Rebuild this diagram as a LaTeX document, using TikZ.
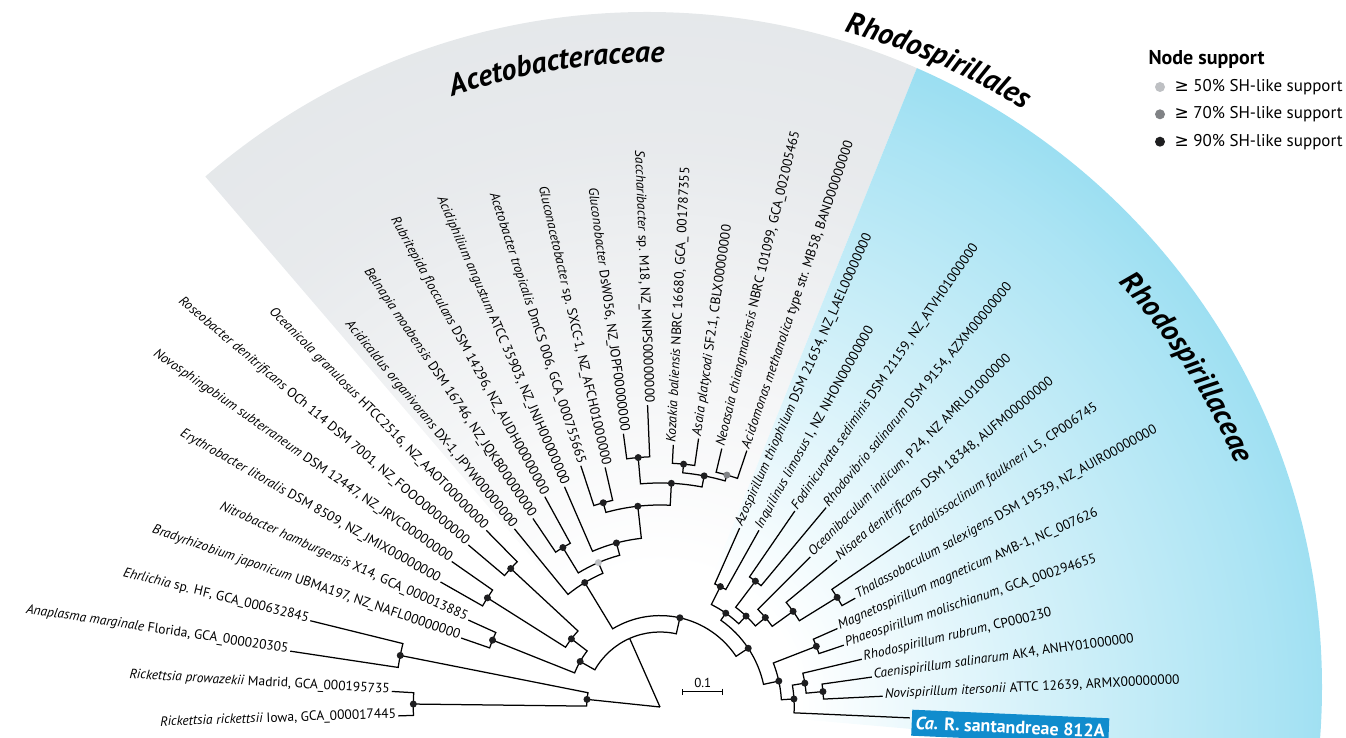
\documentclass[tikz,border=0pt]{standalone}
\usepackage{fontspec}
\setmainfont{PT Sans}
\newfontfamily\symfont{DejaVu Sans}
\usetikzlibrary{calc}
\usetikzlibrary{arrows.meta}
\usetikzlibrary{decorations.text}
\definecolor{fanblue}{RGB}{92,202,233}
\definecolor{fangrey}{RGB}{226,229,232}
\definecolor{boxblue}{RGB}{16,140,205}
\definecolor{sup50}{RGB}{190,192,195}
\definecolor{sup70}{RGB}{128,130,133}
\definecolor{sup90}{RGB}{30,30,32}
\pgfdeclareradialshading{bluefan}{\pgfpoint{0bp}{0bp}}{color(0bp)=(white); color(5bp)=(white); color(22bp)=(fanblue!52); color(35bp)=(fanblue); color(50bp)=(fanblue)}
\pgfdeclareradialshading{greyfan}{\pgfpoint{0bp}{0bp}}{color(0bp)=(white); color(5bp)=(white); color(20bp)=(fangrey!80); color(30bp)=(fangrey); color(50bp)=(fangrey)}
\pgfdeclarelayer{back}
\pgfdeclarelayer{lines}
\pgfsetlayers{back,lines,main}
\newcommand{\cladefont}{\bfseries\itshape\fontsize{30}{30}\selectfont}
% one branch of the fan: arc at the parent radius, then out to the child
\newcommand{\branch}[2]{%
  \draw[tree line] let \p1=(#1.center), \p2=(#2.center),
    \n1={mod(atan2(\y1,\x1)+450,360)-90},
    \n2={mod(atan2(\y2,\x2)+450,360)-90},
    \n3={veclen(\x1,\y1)} in
    (#1.center) arc[start angle=\n1, end angle=\n2, radius=\n3] -- (#2.center);}

\begin{document}
\begin{tikzpicture}[x=1pt,y=1pt,
    tree line/.style={line width=1.25pt,line join=miter},
    dot/.style={circle,fill=sup90,inner sep=0pt,minimum size=7pt},
    dot50/.style={dot,fill=sup50},
    dot70/.style={dot,fill=sup70},
    right tip/.style={rotate=#1,anchor=base west,yshift=-2pt,inner xsep=2pt,inner ysep=0pt,font=\fontsize{13.5}{15}\selectfont},
    left tip/.style={rotate=#1-180,anchor=base east,yshift=-2pt,inner xsep=2pt,inner ysep=0pt,font=\fontsize{13.5}{15}\selectfont},
    santa box/.style={rotate=#1,anchor=north west,yshift=8.5pt,xshift=2pt,fill=boxblue,text=white,inner xsep=4pt,inner ysep=0pt,minimum height=26pt,font=\bfseries\fontsize{18}{20}\selectfont},
    legend text/.style={anchor=west,font=\fontsize{17}{20}\selectfont}]
  \useasboundingbox (-660,-31) rectangle (686,707);

  % clade fans
  \begin{pgfonlayer}{back}
    \begin{scope}
      \clip (-13,20) circle (675);
      \clip (0,0) -- (130.6:1200) -- (68.1:1200) -- cycle;
      \shade[shading=greyfan] (0,0) circle (700);
    \end{scope}
    \begin{scope}
      \clip (-13,20) circle (675);
      \clip (0,0) -- (68.1:1200) -- (-5:1200) -- cycle;
      \shade[shading=bluefan] (0,0) circle (700);
    \end{scope}
  \end{pgfonlayer}

  \path[decorate,decoration={text along path,text align=center,text={|\cladefont|Acetobacteraceae}}]
    (113:645) arc[start angle=113,end angle=85.4,radius=645];
  \path[decorate,decoration={text along path,text align=center,text={|\cladefont|Rhodospirillales}}]
    (80:700) arc[start angle=80,end angle=53.4,radius=700];
  \path[decorate,decoration={text along path,text align=center,text={|\cladefont|Rhodospirillaceae}}]
    (47:625) arc[start angle=47,end angle=18.6,radius=625];

  % tips
  \coordinate (root) at (0,0);
  \coordinate (tSant) at (-2.50:250);
  \coordinate (tNovi) at (2.77:223);
  \coordinate (tCaen) at (8.04:214);
  \coordinate (tRrub) at (13.31:207.4);
  \coordinate (tPhae) at (18.58:194);
  \coordinate (tMagn) at (23.85:194);
  \coordinate (tThal) at (29.12:223.5);
  \coordinate (tEndo) at (34.39:302.5);
  \coordinate (tNisa) at (39.66:230);
  \coordinate (tOcea) at (44.93:212.4);
  \coordinate (tRvib) at (50.20:259.5);
  \coordinate (tFodi) at (55.47:237.9);
  \coordinate (tInqu) at (60.74:202.5);
  \coordinate (tAzos) at (66.01:195.8);
  \coordinate (tAcmo) at (71.28:270.7);
  \coordinate (tNeoa) at (76.55:265.7);
  \coordinate (tAsai) at (81.82:271.2);
  \coordinate (tKoza) at (87.09:262.4);
  \coordinate (tSacc) at (92.36:302.2);
  \coordinate (tGlub) at (97.63:275.7);
  \coordinate (tGlac) at (102.90:245.8);
  \coordinate (tAcet) at (108.17:253.9);
  \coordinate (tAcph) at (113.44:240);
  \coordinate (tRubr) at (118.71:239.8);
  \coordinate (tBeln) at (123.98:227.3);
  \coordinate (tAccd) at (129.25:230);
  \coordinate (tOcgr) at (134.52:247.7);
  \coordinate (tRose) at (139.79:251);
  \coordinate (tNovo) at (145.06:254);
  \coordinate (tEryt) at (150.33:252.6);
  \coordinate (tNitr) at (155.60:210.5);
  \coordinate (tBrad) at (160.87:210.4);
  \coordinate (tEhrl) at (166.14:360.2);
  \coordinate (tAnap) at (171.41:374);
  \coordinate (tRpro) at (176.68:268.7);
  \coordinate (tRric) at (181.95:261.9);

  % inner nodes
  \node[dot] (nNC) at (5.405:163.7) {};
  \node[dot] (nB) at (9.36:146.8) {};
  \node[dot] (nA) at (3.43:134.2) {};
  \node[dot] (nMP) at (21.215:167.7) {};
  \node[dot] (nD) at (12.32:121.6) {};
  \node[dot] (nF6) at (31.755:208.3) {};
  \node[dot] (nF5) at (35.71:163.9) {};
  \node[dot] (nF4) at (40.32:138.2) {};
  \node[dot] (nF3) at (52.835:157.9) {};
  \node[dot] (nF2) at (46.58:125.2) {};
  \node[dot] (nF1) at (63.375:134.7) {};
  \node[dot] (nF) at (54.98:114.6) {};
  \node[dot] (nE) at (33.65:106) {};
  \node[dot70] (nP4) at (73.915:241.4) {};
  \node[dot] (nP2) at (84.455:244) {};
  \node[dot] (nP3) at (79.185:235.3) {};
  \node[dot] (nP1) at (94.995:250.4) {};
  \node[dot] (nP5) at (87.09:224) {};
  \node[dot] (nP6) at (105.535:212) {};
  \node[dot] (nP7) at (96.31:202) {};
  \node[dot] (nP8) at (104.875:169.7) {};
  \node[dot] (nQ) at (121.345:186.7) {};
  \node[dot50] (nP9) at (113.11:157) {};
  \node[dot] (nP10) at (121.18:145.4) {};
  \node[dot] (nG) at (77.415:91.4) {};
  \node[dot] (nN1) at (137.155:203.6) {};
  \node[dot] (nN2) at (147.695:204.2) {};
  \node[dot] (nK1) at (142.425:111.8) {};
  \node[dot] (nNB) at (158.235:180.3) {};
  \node[dot] (nK) at (150.33:91.9) {};
  \coordinate (nH) at (113.87:75);
  \node[dot] (nAE) at (168.775:264.8) {};
  \node[dot] (nRR) at (179.315:246.7) {};
  \node[dot] (nX) at (174.045:73.4) {};

  \begin{pgfonlayer}{lines}
    \branch{nNC}{tNovi} \branch{nNC}{tCaen}
    \branch{nB}{nNC} \branch{nB}{tRrub}
    \branch{nA}{tSant} \branch{nA}{nB}
    \branch{nMP}{tPhae} \branch{nMP}{tMagn}
    \branch{nD}{nA} \branch{nD}{nMP}
    \branch{nF6}{tThal} \branch{nF6}{tEndo}
    \branch{nF5}{tNisa} \branch{nF5}{nF6}
    \branch{nF4}{tOcea} \branch{nF4}{nF5}
    \branch{nF3}{tRvib} \branch{nF3}{tFodi}
    \branch{nF2}{nF3} \branch{nF2}{nF4}
    \branch{nF1}{tInqu} \branch{nF1}{tAzos}
    \branch{nF}{nF1} \branch{nF}{nF2}
    \branch{nE}{nD} \branch{nE}{nF}
    \branch{nP4}{tAcmo} \branch{nP4}{tNeoa}
    \branch{nP2}{tAsai} \branch{nP2}{tKoza}
    \branch{nP3}{nP4} \branch{nP3}{nP2}
    \branch{nP1}{tSacc} \branch{nP1}{tGlub}
    \branch{nP5}{nP3} \branch{nP5}{nP1}
    \branch{nP6}{tGlac} \branch{nP6}{tAcet}
    \branch{nP7}{nP5} \branch{nP7}{nP6}
    \branch{nP8}{nP7} \branch{nP8}{tAcph}
    \branch{nQ}{tRubr} \branch{nQ}{tBeln}
    \branch{nP9}{nP8} \branch{nP9}{nQ}
    \branch{nP10}{nP9} \branch{nP10}{tAccd}
    \branch{nG}{nE} \branch{nG}{nP10}
    \branch{nN1}{tOcgr} \branch{nN1}{tRose}
    \branch{nN2}{tNovo} \branch{nN2}{tEryt}
    \branch{nK1}{nN1} \branch{nK1}{nN2}
    \branch{nNB}{tNitr} \branch{nNB}{tBrad}
    \branch{nK}{nK1} \branch{nK}{nNB}
    \branch{nH}{nG} \branch{nH}{nK}
    \branch{nAE}{tEhrl} \branch{nAE}{tAnap}
    \branch{nRR}{tRpro} \branch{nRR}{tRric}
    \branch{nX}{nAE} \branch{nX}{nRR}
    \draw[tree line] (root) -- (nH);
    \draw[tree line] (root) -- (nX.center);
  \end{pgfonlayer}

  % leaf labels
  \node[santa box=-2.5] (lSant) at (tSant) {\textit{Ca.} R. santandreae 812A};
  \node[right tip=2.77] (lNovi) at (tNovi) {\textit{Novispirillum itersonii} ATTC 12639, ARMX00000000};
  \node[right tip=8.04] (lCaen) at (tCaen) {\textit{Caenispirillum salinarum} AK4, ANHY01000000};
  \node[right tip=13.31] (lRrub) at (tRrub) {\textit{Rhodospirillum rubrum}, CP000230};
  \node[right tip=18.58] (lPhae) at (tPhae) {\textit{Phaeospirillum molischianum}, GCA\_000294655};
  \node[right tip=23.85] (lMagn) at (tMagn) {\textit{Magnetospirillum magneticum} AMB-1, NC\_007626};
  \node[right tip=29.12] (lThal) at (tThal) {\textit{Thalassobaculum salexigens} DSM 19539, NZ\_AUIR00000000};
  \node[right tip=34.39] (lEndo) at (tEndo) {\textit{Endolissoclinum faulkneri} L5, CP006745};
  \node[right tip=39.66] (lNisa) at (tNisa) {\textit{Nisaea denitrificans} DSM 18348, AUFM00000000};
  \node[right tip=44.93] (lOcea) at (tOcea) {\textit{Oceanibaculum indicum}, P24, NZ AMRL01000000};
  \node[right tip=50.20] (lRvib) at (tRvib) {\textit{Rhodovibrio salinarum} DSM 9154, AZXM00000000};
  \node[right tip=55.47] (lFodi) at (tFodi) {\textit{Fodinicurvata sediminis} DSM 21159, NZ\_ATVH01000000};
  \node[right tip=60.74] (lInqu) at (tInqu) {\textit{Inquilinus limosus} I, NZ NHON00000000};
  \node[right tip=66.01] (lAzos) at (tAzos) {\textit{Azospirillum thiophilum} DSM 21654, NZ\_LAEL00000000};
  \node[right tip=71.28] (lAcmo) at (tAcmo) {\textit{Acidomonas methanolica} type str. MB58, BAND00000000};
  \node[right tip=76.55] (lNeoa) at (tNeoa) {\textit{Neoasaia chiangmaiensis} NBRC 101099, GCA\_002005465};
  \node[right tip=81.82] (lAsai) at (tAsai) {\textit{Asaia platycodi} SF2.1, CBLX00000000};
  \node[right tip=87.09] (lKoza) at (tKoza) {\textit{Kozakia baliensis} NBRC 16680, GCA\_ 001787355};
  \node[left tip=92.36] (lSacc) at (tSacc) {\textit{Saccharibacter} sp. M18, NZ\_MNPS00000000};
  \node[left tip=97.63] (lGlub) at (tGlub) {\textit{Gluconobacter} DsW056, NZ\_JOPF00000000};
  \node[left tip=102.90] (lGlac) at (tGlac) {\textit{Gluconacetobacter} sp. SXCC-1, NZ\_AFCH01000000};
  \node[left tip=108.17] (lAcet) at (tAcet) {\textit{Acetobacter tropicalis} DmCS 006, GCA\_000755665};
  \node[left tip=113.44] (lAcph) at (tAcph) {\textit{Acidiphilium angustum} ATCC 35903, NZ\_JNJH00000000};
  \node[left tip=118.71] (lRubr) at (tRubr) {\textit{Rubritepida flocculans} DSM 14296, NZ\_AUDH00000000};
  \node[left tip=123.98] (lBeln) at (tBeln) {\textit{Belnapia moabensis} DSM 16746, NZ\_JQKB00000000};
  \node[left tip=129.25] (lAccd) at (tAccd) {\textit{Acidicaldus organivorans} DX-1, JPYW00000000};
  \node[left tip=134.52] (lOcgr) at (tOcgr) {\textit{Oceanicola granulosus} HTCC2516, NZ\_AAOT00000000};
  \node[left tip=139.79] (lRose) at (tRose) {\textit{Roseobacter denitrificans} OCh 114 DSM 7001, NZ\_FOOO00000000};
  \node[left tip=145.06] (lNovo) at (tNovo) {\textit{Novosphingobium subterraneum} DSM 12447, NZ\_JRVC00000000};
  \node[left tip=150.33] (lEryt) at (tEryt) {\textit{Erythrobacter litoralis} DSM 8509, NZ\_JMIX00000000};
  \node[left tip=155.60] (lNitr) at (tNitr) {\textit{Nitrobacter hamburgensis} X14, GCA\_000013885};
  \node[left tip=160.87] (lBrad) at (tBrad) {\textit{Bradyrhizobium japonicum} UBMA197, NZ\_NAFL00000000};
  \node[left tip=166.14] (lEhrl) at (tEhrl) {\textit{Ehrlichia} sp. HF, GCA\_000632845};
  \node[left tip=171.41] (lAnap) at (tAnap) {\textit{Anaplasma marginale} Florida, GCA\_000020305};
  \node[left tip=176.68] (lRpro) at (tRpro) {\textit{Rickettsia prowazekii} Madrid, GCA\_000195735};
  \node[left tip=181.95] (lRric) at (tRric) {\textit{Rickettsia rickettsii} Iowa, GCA\_000017445};

  % scale bar
  \coordinate (barL) at (22.3,15.3);
  \coordinate (barR) at (63.3,15.3);
  \draw[line width=1pt,{Bar[width=6pt]}-{Bar[width=6pt]}] (barL) -- (barR);
  \node[font=\fontsize{13}{15}\selectfont,above=1pt] (barLbl) at ($(barL)!0.5!(barR)$) {0.1};

  % legend
  \node[anchor=west,font=\bfseries\fontsize{20}{24}\selectfont] (legTitle) at (485,648) {Node support};
  \node[dot50,minimum size=10pt] (leg50) at (500,620) {};
  \node[dot70,minimum size=10pt] (leg70) at (500,592.7) {};
  \node[dot,minimum size=10pt] (leg90) at (500,565.3) {};
  \node[legend text] (leg50txt) at (511,620) {{\symfont ≥} 50\% SH-like support};
  \node[legend text] (leg70txt) at (511,592.7) {{\symfont ≥} 70\% SH-like support};
  \node[legend text] (leg90txt) at (511,565.3) {{\symfont ≥} 90\% SH-like support};
\end{tikzpicture}
\end{document}
